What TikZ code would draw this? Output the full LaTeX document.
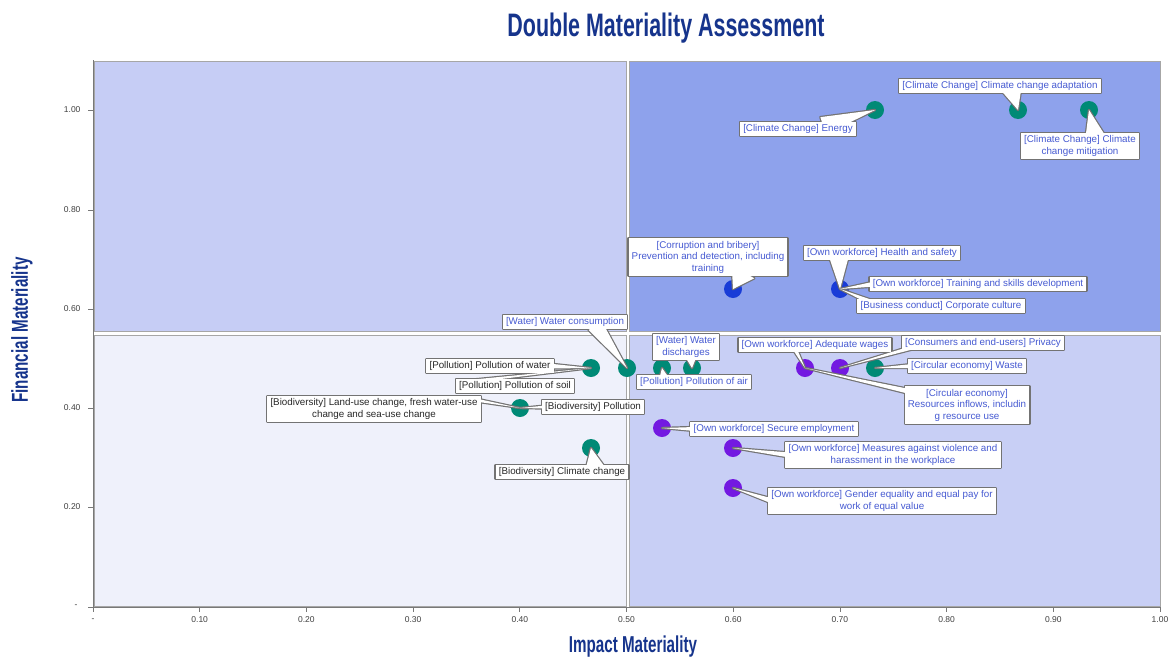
\documentclass[tikz,border=0pt]{standalone}
\usepackage{fontspec}
\setmainfont{Liberation Sans}
\newfontfamily\condfont[FakeStretch=0.66]{Liberation Sans}
\usetikzlibrary{calc}
\definecolor{titleblue}{RGB}{22,52,140}
\definecolor{qTL}{RGB}{198,205,245}
\definecolor{qTR}{RGB}{142,162,236}
\definecolor{qBL}{RGB}{239,241,251}
\definecolor{qBR}{RGB}{200,207,245}
\definecolor{dteal}{RGB}{0,138,118}
\definecolor{dblue}{RGB}{25,60,215}
\definecolor{dpurple}{RGB}{115,25,225}
\definecolor{lblue}{RGB}{70,90,210}
\definecolor{ldark}{RGB}{40,40,40}
\definecolor{axgray}{RGB}{120,120,120}
\pgfdeclarelayer{back}
\pgfdeclarelayer{dotlayer}
\pgfdeclarelayer{cstroke}
\pgfdeclarelayer{cfill}
\pgfsetlayers{back,dotlayer,cstroke,cfill,main}
\tikzset{
  lab/.style={font=\fontsize{9.8}{11.5}\selectfont, align=center, inner xsep=3pt, inner ysep=2.5pt, text=lblue},
  labd/.style={lab, text=ldark},
  dotbase/.style={circle, minimum size=18pt, inner sep=0pt},
  dotT/.style={dotbase, fill=dteal},
  dotB/.style={dotbase, fill=dblue},
  dotP/.style={dotbase, fill=dpurple},
  cline/.style={draw=black!55, line width=2.4pt, line join=round},
  quad/.style={draw=black!35, line width=0.6pt},
  ticklab/.style={font=\fontsize{8.5}{9}\selectfont, text=black!75},
  axtitle/.style={font=\condfont\bfseries\fontsize{23}{26}\selectfont, text=titleblue},
}
\newcommand\callout[4]{%
  \coordinate (cb) at #2;
  \begin{pgfonlayer}{cstroke}
    \draw[cline] (#1.north west) rectangle (#1.south east);
    \draw[cline] ($(cb)!#4!90:(#3.center)$) -- (#3.center) -- ($(cb)!#4!-90:(#3.center)$) -- cycle;
  \end{pgfonlayer}
  \begin{pgfonlayer}{cfill}
    \fill[white] (#1.north west) rectangle (#1.south east);
    \fill[white] ($(cb)!#4!90:(#3.center)$) -- (#3.center) -- ($(cb)!#4!-90:(#3.center)$) -- cycle;
  \end{pgfonlayer}}
\begin{document}
\begin{tikzpicture}[x=1pt,y=-1pt]
\useasboundingbox (0,0) rectangle (1172,659);
% title
\node[font=\condfont\bfseries\fontsize{32.5}{36}\selectfont, text=titleblue] (title) at (666,28) {Double Materiality Assessment};
% quadrants
\begin{pgfonlayer}{back}
  \fill[white] (0,0) rectangle (1172,659);
  \fill[white] (93,60) rectangle (1160,607);
  \fill[qTL] (94,61) rectangle (626,331);
  \fill[qTR] (629,61) rectangle (1160,331);
  \fill[qBL] (94,335) rectangle (626,606);
  \fill[qBR] (629,335) rectangle (1160,606);
  \draw[quad] (94,61) rectangle (626,331);
  \draw[quad] (629,61) rectangle (1160,331);
  \draw[quad] (94,335) rectangle (626,606);
  \draw[quad] (629,335) rectangle (1160,606);
  \draw[axgray, line width=0.8pt] (93,60) -- (93,607) -- (1160,607);
  \foreach \yy in {110,210,309,408,507,607} \draw[axgray, line width=0.8pt] (88,\yy) -- (93,\yy);
  \foreach \i in {0,...,10} \draw[axgray, line width=0.8pt] ({93+106.7*\i},607) -- ({93+106.7*\i},612);
\end{pgfonlayer}
% tick labels
\node[ticklab, anchor=east] (y100) at (84,110) {1.00};
\node[ticklab, anchor=east] (y80) at (84,210) {0.80};
\node[ticklab, anchor=east] (y60) at (84,309) {0.60};
\node[ticklab, anchor=east] (y40) at (84,408) {0.40};
\node[ticklab, anchor=east] (y20) at (84,507) {0.20};
\node[ticklab, anchor=east] (y0) at (81,606) {-};
\node[ticklab] (x0) at (93,620) {-};
\foreach \v [count=\i] in {0.10,0.20,0.30,0.40,0.50,0.60,0.70,0.80,0.90,1.00}
  \node[ticklab] (x\i) at ({93+106.7*\i},620) {\v};
% axis titles
\node[axtitle, rotate=90] (ytitle) at (22,330) {Financial Materiality};
\node[axtitle] (xtitle) at (633,647) {Impact Materiality};
% dots
\begin{pgfonlayer}{dotlayer}
  \node[dotT] (dEn) at (875,110) {};
  \node[dotT] (dAd) at (1018,110) {};
  \node[dotT] (dMi) at (1089,110) {};
  \node[dotB] (dCo) at (733,289) {};
  \node[dotB] (dHs) at (840,289) {};
  \node[dotT] (dPw) at (591,368) {};
  \node[dotT] (dWc) at (627,368) {};
  \node[dotT] (dAir) at (662,368) {};
  \node[dotT] (dWd) at (692,368) {};
  \node[dotP] (dAw) at (805,368) {};
  \node[dotP] (dPr) at (840,368) {};
  \node[dotT] (dWa) at (875,368) {};
  \node[dotT] (dBl) at (520,408) {};
  \node[dotT] (dBc) at (591,448) {};
  \node[dotP] (dSe) at (662,428) {};
  \node[dotP] (dMe) at (733,448) {};
  \node[dotP] (dGe) at (733,488) {};
\end{pgfonlayer}
% labels
\node[lab] (en) at (798,129) {[Climate Change] Energy};
\node[lab] (ad) at (1000,86) {[Climate Change] Climate change adaptation};
\node[lab] (mi) at (1080,146) {[Climate Change] Climate\\change mitigation};
\node[lab] (co) at (708,257) {[Corruption and bribery]\\Prevention and detection, including\\training};
\node[lab] (hs) at (882,253) {[Own workforce] Health and safety};
\node[lab] (tr) at (978,284) {[Own workforce] Training and skills development};
\node[lab] (cc) at (941,306) {[Business conduct] Corporate culture};
\node[lab] (wc) at (565,322) {[Water] Water consumption};
\node[labd] (pw) at (490,366) {[Pollution] Pollution of water};
\node[labd] (ps) at (515,386) {[Pollution] Pollution of soil};
\node[labd] (bl) at (374,409) {[Biodiversity] Land-use change, fresh water-use\\change and sea-use change};
\node[labd] (bp) at (593,407) {[Biodiversity] Pollution};
\node[labd] (bc) at (562,472) {[Biodiversity] Climate change};
\node[lab] (wd) at (686,347) {[Water] Water\\discharges};
\node[lab] (pa) at (694,382) {[Pollution] Pollution of air};
\node[lab] (aw) at (815,345) {[Own workforce] Adequate wages};
\node[lab] (pr) at (983,343) {[Consumers and end-users] Privacy};
\node[lab] (wa) at (967,366) {[Circular economy] Waste};
\node[lab] (re) at (967,405) {[Circular economy]\\Resources inflows, includin\\g resource use};
\node[lab] (se) at (774,429) {[Own workforce] Secure employment};
\node[lab] (me) at (893,455) {[Own workforce] Measures against violence and\\harassment in the workplace};
\node[lab] (ge) at (882,501) {[Own workforce] Gender equality and equal pay for\\work of equal value};
% callouts
\callout{en}{($(en.north)+(25,4)$)}{dEn}{9pt}
\callout{ad}{($(ad.south)+(12,-4)$)}{dAd}{10pt}
\callout{mi}{($(mi.north)+(15,4)$)}{dMi}{10pt}
\callout{co}{($(co.south)+(35,-4)$)}{dCo}{13pt}
\callout{hs}{($(hs.south west)+(35,-4)$)}{dHs}{10pt}
\callout{tr}{($(tr.west)+(5,0)$)}{dHs}{2.5pt}
\callout{cc}{($(cc.north west)+(15,4)$)}{dHs}{2.5pt}
\callout{wc}{($(wc.south)+(30,-4)$)}{dWc}{8pt}
\callout{pw}{($(pw.east)+(-5,0)$)}{dPw}{2.5pt}
\callout{ps}{($(ps.north west)+(10,3)$)}{dPw}{1.5pt}
\callout{bl}{($(bl.north east)+(-5,4)$)}{dBl}{1.5pt}
\callout{bp}{($(bp.west)+(4,0)$)}{dBl}{1.5pt}
\callout{bc}{($(bc.north)+(33,4)$)}{dBc}{10pt}
\callout{wd}{($(wd.south)+(5,-4)$)}{dWd}{6pt}
\callout{pa}{($(pa.north)+(-30,4)$)}{dAir}{5pt}
\callout{aw}{($(aw.south)+(-20,-3)$)}{dAw}{2pt}
\callout{pr}{($(pr.south west)+(15,-4)$)}{dPr}{2pt}
\callout{wa}{($(wa.west)+(4,0)$)}{dWa}{2pt}
\callout{re}{($(re.north west)+(8,6)$)}{dAw}{2.5pt}
\callout{se}{($(se.west)+(4,0)$)}{dSe}{2pt}
\callout{me}{($(me.west)+(4,0)$)}{dMe}{2.5pt}
\callout{ge}{($(ge.west)+(4,0)$)}{dGe}{2.5pt}
\end{tikzpicture}
\end{document}
